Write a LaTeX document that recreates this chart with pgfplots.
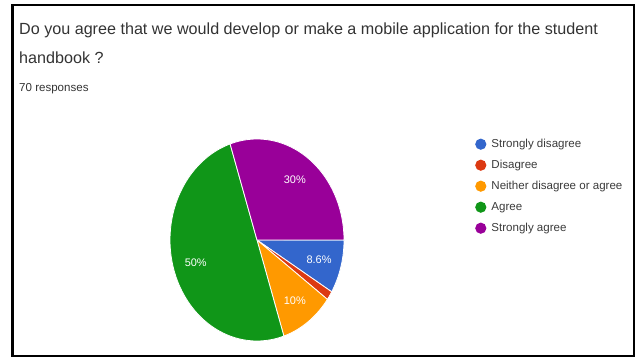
\documentclass[border=0pt]{standalone}
\usepackage{pgfplots}
\usepackage{pgfplotstable}
\pgfplotsset{compat=1.18}
\usepackage{fontspec}
\setmainfont{Liberation Sans}
\definecolor{gblue}{HTML}{3366CC}
\definecolor{gred}{HTML}{DC3912}
\definecolor{gorange}{HTML}{FF9900}
\definecolor{ggreen}{HTML}{109618}
\definecolor{gpurple}{HTML}{990099}
\definecolor{titlegray}{HTML}{333333}
\definecolor{leggray}{HTML}{3A3A3A}

\pgfplotstableread[col sep=comma]{
answer,count
Strongly disagree,6
Disagree,1
Neither disagree or agree,7
Agree,35
Strongly agree,21
}\responses

\def\cx{257}\def\cy{240}\def\rx{87}\def\ry{101}
\newcommand\slice[3]{%
  \addplot[fill=#1, draw=white, line width=0.8bp, domain=#2:#3, samples=80,
    variable=\t, forget plot]
    ({\cx+\rx*cos(\t)}, {\cy+\ry*sin(\t)}) -- (axis cs:\cx,\cy) -- cycle;}
\newcommand\plabel[2]{% mid angle, text
  \node[text=white, font=\fontsize{11}{12}\selectfont, inner sep=0pt]
    at (axis cs:{\cx+0.74*\rx*cos(#1)},{\cy+0.74*\ry*sin(#1)}) {#2};}

\begin{document}
\begin{tikzpicture}
\pgfplotstablegetelem{0}{count}\of\responses \let\cA\pgfplotsretval
\pgfplotstablegetelem{1}{count}\of\responses \let\cB\pgfplotsretval
\pgfplotstablegetelem{2}{count}\of\responses \let\cC\pgfplotsretval
\pgfplotstablegetelem{3}{count}\of\responses \let\cD\pgfplotsretval
\pgfplotstablegetelem{4}{count}\of\responses \let\cE\pgfplotsretval
\pgfmathsetmacro\total{\cA+\cB+\cC+\cD+\cE}
\pgfmathsetmacro\unit{360/\total}
\pgfmathsetmacro\aB{\unit*\cA}
\pgfmathsetmacro\aC{\unit*(\cA+\cB)}
\pgfmathsetmacro\aD{\unit*(\cA+\cB+\cC)}
\pgfmathsetmacro\aE{\unit*(\cA+\cB+\cC+\cD)}
\pgfmathsetmacro\mA{\aB/2}
\pgfmathsetmacro\mC{(\aC+\aD)/2}
\pgfmathsetmacro\mD{(\aD+\aE)/2}
\pgfmathsetmacro\mE{(\aE+360)/2}
\begin{axis}[
  width=636bp, height=360bp, scale only axis,
  xmin=0, xmax=636, ymin=0, ymax=360, y dir=reverse,
  hide axis, clip=false,
  legend image code/.code={\fill[#1, draw=none] (0bp,0bp) circle[radius=5.6bp];},
  legend style={at={(axis cs:475,137.5)}, anchor=north west, draw=none, fill=none,
    inner sep=0pt, font=\fontsize{11.6}{13}\selectfont, text=leggray,
    row sep=8bp, column sep=4bp, cells={anchor=west},
    nodes={inner sep=1bp, text height=8.5bp, text depth=2.5bp}},
]
\path (axis cs:0,0) rectangle (axis cs:636,360);
\draw[line width=2.6bp, black] (axis cs:12.5,5) rectangle (axis cs:634,356);

\node[anchor=base west, inner sep=0pt, font=\fontsize{16.2}{19}\selectfont, text=titlegray]
  at (axis cs:19,34) {Do you agree that we would develop or make a mobile application for the student};
\node[anchor=base west, inner sep=0pt, font=\fontsize{16.2}{19}\selectfont, text=titlegray]
  at (axis cs:19,63) {handbook ?};
\node[anchor=base west, inner sep=0pt, font=\fontsize{11.6}{13}\selectfont, text=titlegray]
  at (axis cs:19,91) {70 responses};

\slice{gblue}{0}{\aB}
\slice{gred}{\aB}{\aC}
\slice{gorange}{\aC}{\aD}
\slice{ggreen}{\aD}{\aE}
\slice{gpurple}{\aE}{360}

\plabel{\mA}{8.6\%}
\plabel{\mC}{10\%}
\plabel{\mD}{50\%}
\plabel{\mE}{30\%}

\addlegendimage{fill=gblue}\addlegendentry{Strongly disagree}
\addlegendimage{fill=gred}\addlegendentry{Disagree}
\addlegendimage{fill=gorange}\addlegendentry{Neither disagree or agree}
\addlegendimage{fill=ggreen}\addlegendentry{Agree}
\addlegendimage{fill=gpurple}\addlegendentry{Strongly agree}
\end{axis}
\end{tikzpicture}
\end{document}
